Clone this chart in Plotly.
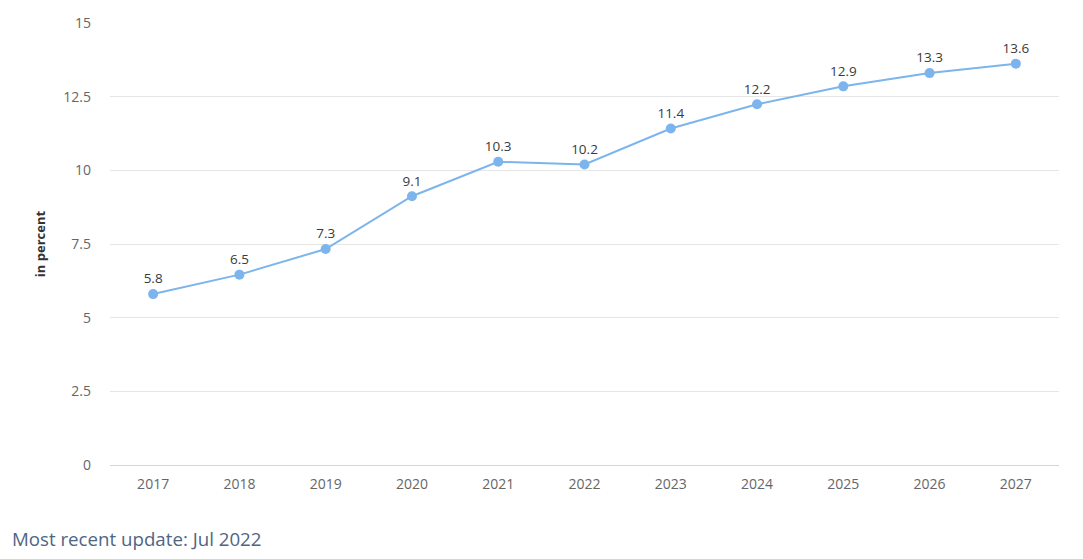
import plotly.graph_objects as go

years = ["2017", "2018", "2019", "2020", "2021", "2022", "2023", "2024", "2025", "2026", "2027"]
values = [5.8, 6.46, 7.33, 9.12, 10.29, 10.2, 11.42, 12.24, 12.85, 13.3, 13.62]
labels = ["5.8", "6.5", "7.3", "9.1", "10.3", "10.2", "11.4", "12.2", "12.9", "13.3", "13.6"]
y_ticks = [0, 2.5, 5, 7.5, 10, 12.5, 15]
y_tick_text = ["0", "2.5", "5", "7.5", "10", "12.5", "15"]

W, H = 1083, 559
L, R, T, B = 102, 32, 15, 102

fig = go.Figure()
fig.add_trace(go.Scatter(
    x=years, y=values, mode="lines+markers+text",
    text=labels, textposition="top center",
    textfont=dict(family="Open Sans", size=13.5, color="#3a3a3a"),
    line=dict(color="#7cb5ec", width=2),
    marker=dict(color="#7cb5ec", size=10),
    cliponaxis=False, hoverinfo="x+y",
))

fig.update_layout(
    width=W, height=H,
    margin=dict(l=L, r=R, t=T, b=B, autoexpand=False),
    paper_bgcolor="white", plot_bgcolor="white",
    showlegend=False,
    font=dict(family="Open Sans", color="#666666", size=13),
    xaxis=dict(type="category", range=[-0.5, 10.5], showgrid=False, automargin=False,
               showline=True, linecolor="#ccd6eb", linewidth=1,
               ticks="", tickfont=dict(size=14, color="#666666"), ticklabelstandoff=6),
    yaxis=dict(range=[0, 15], tickvals=y_ticks, ticktext=y_tick_text, automargin=False,
               showgrid=True, gridcolor="#e6e6e6", gridwidth=1,
               zeroline=False, showline=False, ticks="",
               tickfont=dict(size=14, color="#666666"), ticklabelstandoff=18,
               title=dict(text="<b>in percent</b>", font=dict(size=13, color="#333333"), standoff=14)),
)
fig.add_annotation(text="Most recent update: Jul 2022", xref="paper", yref="paper",
                   x=(2 - L) / (W - L - R), y=-(530 - (H - B)) / (H - B - T),
                   xanchor="left", yanchor="middle", showarrow=False,
                   font=dict(family="Open Sans", size=18.7, color="#4f6584"))

fig.write_html("out.html")
